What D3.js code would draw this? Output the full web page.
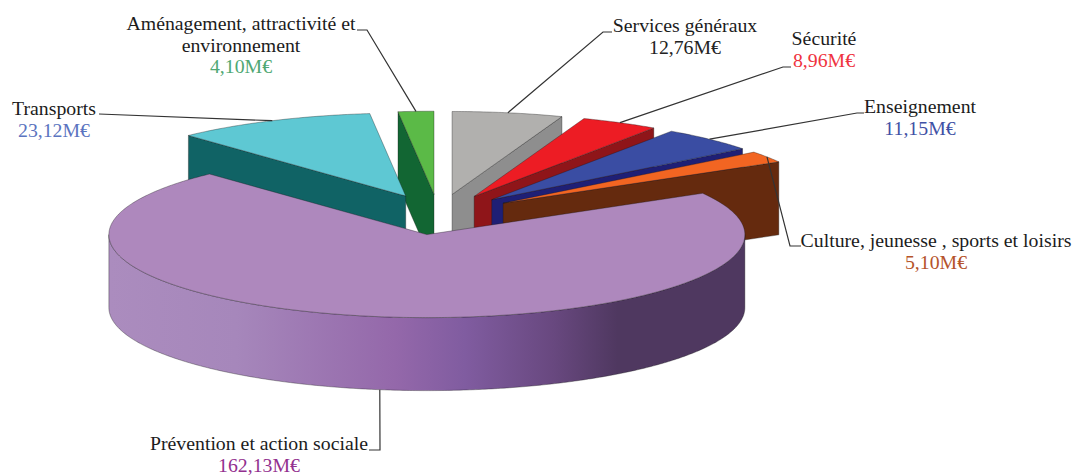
<!DOCTYPE html>
<html>
<head>
<meta charset="utf-8">
<script src="https://cdn.jsdelivr.net/npm/d3@7"></script>
<style>
  body { margin: 0; background: #fff; }
  text { font-family: "Liberation Serif", serif; font-size: 19.8px; text-anchor: middle; }
</style>
</head>
<body>
<div id="chart"></div>
<script>
const categories = ["Services généraux", "Sécurité", "Enseignement", "Culture, jeunesse , sports et loisirs",
    "Prévention et action sociale", "Transports", "Aménagement, attractivité et environnement"];
const values = [12.76, 8.96, 11.15, 5.10, 162.13, 23.12, 4.10];

const topColors = ["#b1b0ae", "#ed1c24", "#3a4da3", "#f26522", "#ae88bd", "#5ec8d3", "#5bba47"];
const wallColors = ["#8e8e8e", "#8f1519", "#1f1f75", "#652a0e", "url(#wallGrad)", "#106365", "#126633"];
const valueColors = ["#222222", "#ef3340", "#3f51a5", "#b5532a", "#93308f", "#5b74c0", "#4fa873"];

// label layout: text lines centred on x, first baseline y, then the elbow of the leader line
const labelLines = [["Services généraux"], ["Sécurité"], ["Enseignement"], ["Culture, jeunesse , sports et loisirs"],
    ["Prévention et action sociale"], ["Transports"], ["Aménagement, attractivité et", "environnement"]];
const labelX = [685, 824, 920, 936, 259, 54, 241];
const labelY = [32, 45, 113, 247, 450, 115, 30];
const elbows = [[603, 32, 612], [783, 67, 791], [857, 113, 864], [790, 246, 801], [380, 450, 369], [99, 114, 99], [367, 30, 357]];

const width = 1073, height = 476;
const depth = 73, explode = 0.245;

const svg = d3.select("#chart").append("svg").attr("width", width).attr("height", height);

// pie lives in a unit circle, scales flatten it to the tilted ellipse
const x = d3.scaleLinear().domain([-1, 1]).range([120.4, 756.4]);
const y = d3.scaleLinear().domain([-1, 1]).range([297.5, 131.5]);

const grad = svg.append("defs").append("linearGradient").attr("id", "wallGrad");
[[0, "#ab8cbe"], [0.2, "#a687bb"], [0.45, "#9468aa"], [0.56, "#805ca0"], [0.7, "#68487f"], [0.8, "#4f3860"], [1, "#4f3860"]]
    .forEach(s => grad.append("stop").attr("offset", s[0]).attr("stop-color", s[1]));

const pie = d3.pie().sort(null).value(d => d.value);
const slices = pie(categories.map((c, i) => ({name: c, value: values[i], i: i})));

slices.forEach(s => {
    s.mid = (s.startAngle + s.endAngle) / 2;
    s.ox = explode * Math.sin(s.mid);
    s.oy = explode * Math.cos(s.mid);
});

const pt = (s, a, r, z = 0) => [x(s.ox + r * Math.sin(a)), y(s.oy + r * Math.cos(a)) + z];
const line = d3.line();

function arcPts(s, a0, a1, z = 0) {
    const n = Math.max(2, Math.ceil((a1 - a0) / 0.01));
    return d3.range(n + 1).map(k => pt(s, a0 + (a1 - a0) * k / n, 1, z));
}

// paint from the back to the front
const order = slices.slice().sort((a, b) => a.oy < b.oy ? -1 : 1).reverse();

order.forEach(s => {
    const g = svg.append("g");
    const i = s.data.i;
    const wall = pts => g.append("path").attr("d", line(pts) + "Z")
        .attr("fill", wallColors[i]).attr("stroke", "#1a1a1a").attr("stroke-width", 0.5).attr("stroke-opacity", 0.7);

    const cutWall = a => wall([pt(s, a, 0), pt(s, a, 1), pt(s, a, 1, depth), pt(s, a, 0, depth)]);
    if (Math.sin(s.startAngle) < -1e-6) cutWall(s.startAngle);
    if (Math.sin(s.endAngle) > 1e-6) cutWall(s.endAngle);

    // only the front half of the rim can be seen
    const a0 = Math.max(s.startAngle, Math.PI / 2), a1 = Math.min(s.endAngle, 3 * Math.PI / 2);
    if (a1 > a0) wall(arcPts(s, a0, a1).concat(arcPts(s, a0, a1, depth).reverse()));

    g.append("path")
        .attr("d", line([pt(s, 0, 0)].concat(arcPts(s, s.startAngle, s.endAngle))) + "Z")
        .attr("fill", topColors[i]).attr("stroke", "#1a1a1a").attr("stroke-width", 0.5).attr("stroke-opacity", 0.7);
});

// leader lines and labels
slices.forEach((s, i) => {
    const e = elbows[i];
    const front = Math.cos(s.mid) < 0;
    svg.append("path")
        .attr("d", line([pt(s, s.mid, 1, front ? depth : 0), [e[0], e[1]], [e[2], e[1]]]))
        .attr("fill", "none").attr("stroke", "#333").attr("stroke-width", 1.2);

    labelLines[i].forEach((t, k) => {
        svg.append("text").attr("x", labelX[i]).attr("y", labelY[i] + k * 21.5).attr("fill", "#1c1c1c").text(t);
    });
    svg.append("text").attr("x", labelX[i]).attr("y", labelY[i] + labelLines[i].length * 21.5)
        .attr("fill", valueColors[i])
        .text(values[i].toFixed(2).replace(".", ",") + "M€");
});
</script>
</body>
</html>
